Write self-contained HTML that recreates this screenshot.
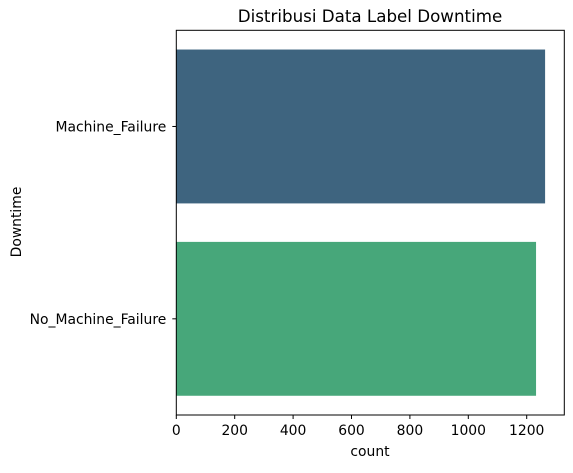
<!DOCTYPE html>
<html><head><meta charset="utf-8"><style>
body{margin:0;background:#fff;}
svg text{font-family:"DejaVu Sans","Liberation Sans",sans-serif;fill:#000;}
</style></head><body>
<svg id="chart" width="573" height="468">
<text x="370" y="22" font-size="16.7" text-anchor="middle">Distribusi Data Label Downtime</text>
<g id="bars"></g>
<g id="xticks"></g>
<g id="yticks"></g>
<rect x="176.3" y="30.3" width="388" height="384.7" fill="none" stroke="#000" stroke-width="1"/>
<text x="370" y="456" font-size="13.9" text-anchor="middle">count</text>
<text x="21" y="222" font-size="13.9" text-anchor="middle" transform="rotate(-90 21 222)">Downtime</text>
</svg>
<script>
const categories=["Machine_Failure","No_Machine_Failure"];
const counts=[1263,1232];
const colors=["#3e647f","#47a77a"];
const xTicks=[0,200,400,600,800,1000,1200];
const L=176.3,T=30.3,H=384.7,pxPer=(526.7-176.3)/1200;
const NS="http://www.w3.org/2000/svg";
function xs(v){return L+v*pxPer;}
function band(i){return T+H/categories.length*i;}
const bw=H/categories.length;
const bars=document.getElementById('bars'),xt=document.getElementById('xticks'),yt=document.getElementById('yticks');
categories.forEach((c,i)=>{
 const r=document.createElementNS(NS,'rect');
 r.setAttribute('x',xs(0));r.setAttribute('y',band(i)+bw*0.1);
 r.setAttribute('width',xs(counts[i])-xs(0));r.setAttribute('height',bw*0.8);
 r.setAttribute('fill',colors[i]);
 
 
 bars.appendChild(r);
 const y=band(i)+bw/2;
 const l=document.createElementNS(NS,'line');
 l.setAttribute('x1',L-4);l.setAttribute('x2',L);l.setAttribute('y1',y);l.setAttribute('y2',y);l.setAttribute('stroke','#000');
 
 
 yt.appendChild(l);
 const t=document.createElementNS(NS,'text');
 t.setAttribute('x',L-10);t.setAttribute('y',y+5);t.setAttribute('font-size','13.9');t.setAttribute('text-anchor','end');
 t.textContent=c;
 
 
 yt.appendChild(t);
});
xTicks.forEach(v=>{
 const x=xs(v);
 const l=document.createElementNS(NS,'line');
 l.setAttribute('x1',x);l.setAttribute('x2',x);l.setAttribute('y1',T+H);l.setAttribute('y2',T+H+4);l.setAttribute('stroke','#000');
 
 
 xt.appendChild(l);
 const t=document.createElementNS(NS,'text');
 t.setAttribute('x',x);t.setAttribute('y',T+H+20);t.setAttribute('font-size','13.9');t.setAttribute('text-anchor','middle');
 t.textContent=v;
 
 
 xt.appendChild(t);
});
</script>
</body></html>
